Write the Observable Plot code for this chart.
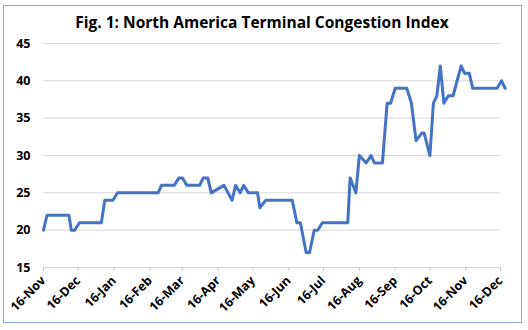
<!DOCTYPE html>
<html><head><meta charset="utf-8">
<script src="https://cdn.jsdelivr.net/npm/d3@7"></script>
<script src="https://cdn.jsdelivr.net/npm/@observablehq/plot@0.6"></script>
<style>
body{margin:0;background:#fff;}
#wrap{position:relative;width:528px;height:330px;overflow:hidden;font-family:"Open Sans",sans-serif;}
#border{position:absolute;left:3px;top:5px;width:519px;height:318px;border:1.5px solid #8eaadb;box-sizing:border-box;}
#title{position:absolute;left:0;top:12px;width:524px;text-align:center;font-weight:bold;font-size:15.5px;line-height:20px;color:#000;}
#chart{position:absolute;left:0;top:0;}
</style></head>
<body><div id="wrap"><div id="border"></div><div id="title">Fig. 1: North America Terminal Congestion Index</div><div id="chart"></div></div>
<script>
const dates = ["2022-11-16","2022-11-19","2022-12-08","2022-12-10","2022-12-13","2022-12-17","2023-01-05","2023-01-08","2023-01-15","2023-01-19","2023-02-23","2023-02-26","2023-03-09","2023-03-13","2023-03-16","2023-03-20","2023-03-31","2023-04-03","2023-04-07","2023-04-10","2023-04-21","2023-04-28","2023-05-01","2023-05-05","2023-05-08","2023-05-12","2023-05-20","2023-05-22","2023-05-27","2023-06-19","2023-06-23","2023-06-26","2023-07-01","2023-07-04","2023-07-08","2023-07-11","2023-07-15","2023-08-06","2023-08-08","2023-08-13","2023-08-16","2023-08-22","2023-08-26","2023-08-29","2023-09-05","2023-09-09","2023-09-12","2023-09-16","2023-09-26","2023-09-30","2023-10-04","2023-10-09","2023-10-11","2023-10-16","2023-10-19","2023-10-22","2023-10-25","2023-10-28","2023-11-01","2023-11-05","2023-11-12","2023-11-15","2023-11-19","2023-11-22","2023-12-13","2023-12-17","2023-12-20"];
const values = [20,22,22,20,20,21,21,24,24,25,25,26,26,27,27,26,26,27,27,25,26,24,26,25,26,25,25,23,24,24,21,21,17,17,20,20,21,21,27,25,30,29,30,29,29,37,37,39,39,37,32,33,33,30,37,38,42,37,38,38,42,41,41,39,39,40,39];
const tickDates = ["2022-11-16","2022-12-16","2023-01-16","2023-02-16","2023-03-16","2023-04-16","2023-05-16","2023-06-16","2023-07-16","2023-08-16","2023-09-16","2023-10-16","2023-11-16","2023-12-16"];
const yTicks = [15,20,25,30,35,40,45];

const parse = d3.utcParse("%Y-%m-%d");
const data = dates.map((d, i) => ({date: parse(d), value: values[i]}));
const xTicks = tickDates.map(parse);
const fmt = d3.utcFormat("%d-%b");

const chart = Plot.plot({
  width: 528, height: 330,
  marginLeft: 43, marginRight: 28, marginTop: 43, marginBottom: 63,
  x: {type: "utc", domain: [xTicks[0], xTicks[xTicks.length - 1]], label: null},
  y: {domain: [15, 45], label: null},
  style: {fontFamily: "'Open Sans', sans-serif", fontSize: "12.5px", fontWeight: "bold", color: "#000", background: "transparent", overflow: "visible"},
  marks: [
    Plot.gridY(yTicks, {stroke: "#d9d9d9", strokeOpacity: 1, strokeWidth: 1}),
    Plot.axisY(yTicks, {tickSize: 0, tickPadding: 13, fill: "#000", label: null}),
    Plot.axisX(xTicks, {tickSize: 4, stroke: "#c8c8c8", strokeOpacity: 1, fill: "#000", tickFormat: fmt, tickRotate: -45, tickPadding: 7, fontSize: 12.5, label: null}),
    Plot.line(data, {x: "date", y: "value", stroke: "#4472C4", strokeWidth: 3, strokeLinejoin: "round", strokeLinecap: "round"})
  ]
});
document.getElementById("chart").append(chart);
</script>
</body></html>
